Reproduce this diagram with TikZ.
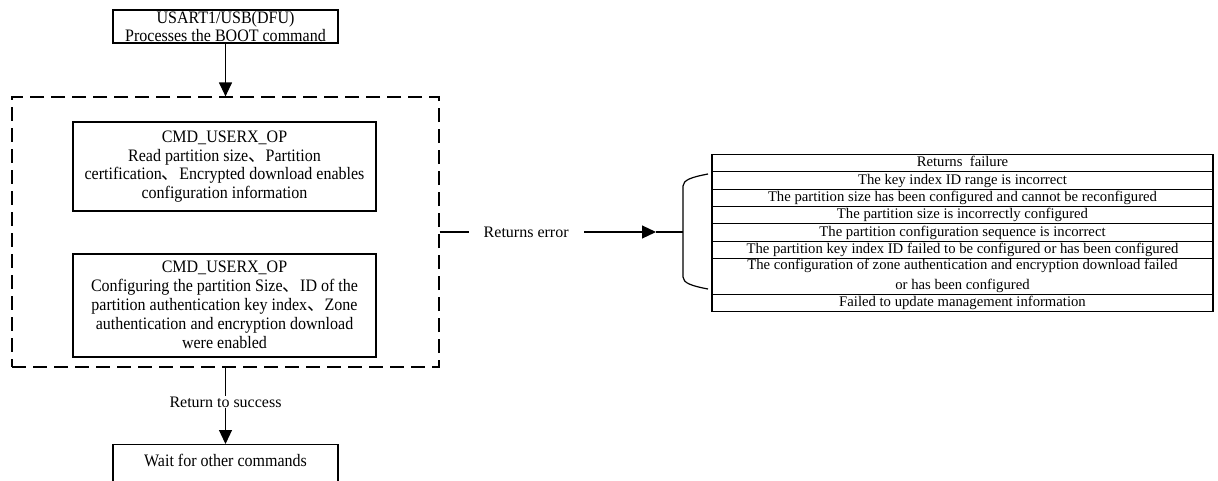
\documentclass[tikz,border=0pt]{standalone}
\usepackage{fontspec}
\setmainfont{Liberation Serif}
\newfontfamily\boxfont[FakeStretch=0.915]{Liberation Serif}
\newfontfamily\cjk{Noto Sans CJK SC}
\usetikzlibrary{arrows.meta}
\begin{document}
\begin{tikzpicture}[x=1pt,y=-1pt,
  every path/.style={line width=1.2pt},
  boxshape/.style={draw, line width=1.2pt, inner sep=0pt, minimum width=#1},
  dbox/.style={draw, dash pattern=on 14pt off 7pt, line width=1.2pt, inner sep=0pt},
  boxtxt/.style={align=center, inner sep=0pt, font=\boxfont\fontsize{17.5}{18.5}\selectfont},
  lbl/.style={fill=white, inner xsep=15pt, inner ysep=1pt, font=\fontsize{16}{18}\selectfont},
  rowbase/.style={draw, line width=1.1pt, anchor=north, inner sep=0pt, minimum width=501pt,
    align=center, font=\fontsize{14.7}{20}\selectfont},
  row/.style={rowbase, minimum height=17.3pt, text height=11pt, text depth=3.5pt},
  arr/.style={-{Triangle[length=14pt,width=13pt]}, line width=1.2pt}
]
\useasboundingbox (0,0) rectangle (1218,480);

% top box
\node[boxshape=225pt, minimum height=33pt] (top) at (225.5,26.5) {};
\node[boxtxt, font=\boxfont\fontsize{17.5}{17.5}\selectfont] (toptxt) at (top.center) {USART1/USB(DFU)\\Processes the BOOT command};

% dashed container
\node[dbox, minimum width=427pt, minimum height=270pt] (dbox) at (225.5,232) {};

% box 1
\node[boxshape=303pt, minimum height=89pt] (b1) at (224.5,166.5) {};
\node[boxtxt] (b1txt) at (b1.center) {CMD\_USERX\_OP\\Read partition size{\cjk 、}Partition\\certification{\cjk 、}Encrypted download enables\\configuration information};

% box 2
\node[boxshape=303pt, minimum height=103pt] (b2) at (224.5,305.5) {};
\node[boxtxt, font=\boxfont\fontsize{17.5}{19}\selectfont] (b2txt) at ([yshift=1pt]b2.center) {CMD\_USERX\_OP\\Configuring the partition Size{\cjk 、}ID of the\\partition authentication key index{\cjk 、}Zone\\authentication and encryption download\\were enabled};

% wait box
\node[boxshape=225pt, minimum height=44pt, anchor=north] (wait) at (225.5,444) {};
\node[boxtxt] (waittxt) at (225.5,460.5) {Wait for other commands};

% arrows
\draw[arr] (top.south) -- (dbox.north);
\draw[arr] (dbox.south) -- node[lbl, pos=0.45, inner xsep=2pt] (succ) {Return to success} (wait.north);

% table
\node[row] (r1) at (962.5,154) {Returns~ failure};
\node[row] (r2) at (962.5,171.3) {The key index ID range is incorrect};
\node[row] (r3) at (962.5,188.6) {The partition size has been configured and cannot be reconfigured};
\node[row] (r4) at (962.5,205.9) {The partition size is incorrectly configured};
\node[row] (r5) at (962.5,223.2) {The partition configuration sequence is incorrect};
\node[row] (r6) at (962.5,240.5) {The partition key index ID failed to be configured or has been configured};
\node[rowbase, minimum height=36pt] (r7) at (962.5,257.8) {The configuration of zone authentication and encryption download failed\\or has been configured};
\node[row] (r8) at (962.5,293.8) {Failed to update management information};

% brace
\coordinate (bt) at (708,174);
\coordinate (bmt) at (683,186);
\coordinate (bm) at (683,232);
\coordinate (bmb) at (683,277);
\coordinate (bb) at (708,289);
\coordinate (tip) at (656,232);
\draw (bt) .. controls (692,177) and (683,180) .. (bmt) -- (bmb) .. controls (683,283) and (692,286) .. (bb);

% error arrow
\draw[arr] (dbox.east) -- node[lbl, pos=0.4] (err) {Returns error} (tip);
\draw (tip) -- (bm);
\end{tikzpicture}
\end{document}
